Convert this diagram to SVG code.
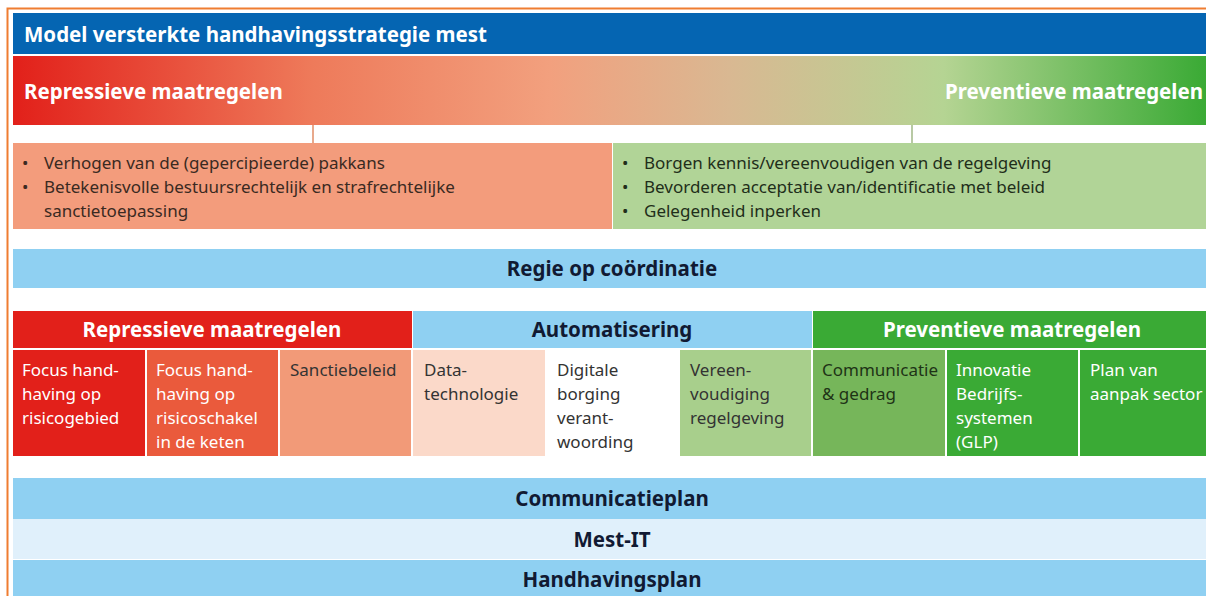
<svg xmlns="http://www.w3.org/2000/svg" width="1206" height="596" viewBox="0 0 1206 596">
<defs>
<linearGradient id="grad" x1="0" y1="0" x2="1" y2="0">
<stop offset="0" stop-color="#e2201a"/>
<stop offset="0.25" stop-color="#ee7a5a"/>
<stop offset="0.45" stop-color="#f2a07e"/>
<stop offset="0.6" stop-color="#d9b892"/>
<stop offset="0.78" stop-color="#b5d493"/>
<stop offset="1" stop-color="#3aaa35"/>
</linearGradient>
<style>
text{font-family:"Noto Sans","Open Sans","Liberation Sans",sans-serif}
.hw{fill:#ffffff;font-weight:bold;font-size:20.5px}
.hd{fill:#111a33;font-weight:bold;font-size:20.5px}
.bl{fill:#3a2a22;font-size:17px}
.bg{fill:#1f2e1a;font-size:17px}
.cw{fill:#ffffff;font-size:17px}
.cd{fill:#333333;font-size:17px}
.bar{fill:#8fd0f2}
.conn{stroke-width:2;fill:none}
</style>
</defs>
<rect width="1206" height="596" fill="#ffffff"/>
<path d="M7.5 596 V8.5 H1206" stroke="#ef7d31" stroke-width="2" fill="none"/>

<g id="title">
<rect x="13" y="13" width="1193" height="41" fill="#0565b2"/>
<text class="hw" x="24" y="42">Model versterkte handhavingsstrategie mest</text>
</g>

<g id="strategy-bar">
<rect x="13" y="56" width="1193" height="69" fill="url(#grad)"/>
<text class="hw" x="24" y="99">Repressieve maatregelen</text>
<text class="hw" x="1203" y="99" text-anchor="end">Preventieve maatregelen</text>
</g>

<g id="connectors">
<line class="conn" x1="313" y1="125" x2="313" y2="143" stroke="#e8a98c"/>
<line class="conn" x1="912" y1="125" x2="912" y2="143" stroke="#b8c9a4"/>
</g>

<g id="repressive-goals">
<rect x="13" y="143" width="599" height="86" fill="#f39c7c"/>
<text class="bl" x="22" y="169">•</text><text class="bl" x="44" y="169">Verhogen van de (gepercipieerde) pakkans</text>
<text class="bl" x="22" y="193">•</text><text class="bl" x="44" y="193">Betekenisvolle bestuursrechtelijk en strafrechtelijke</text>
<text class="bl" x="44" y="217">sanctietoepassing</text>
</g>

<g id="preventive-goals">
<rect x="613" y="143" width="593" height="86" fill="#b1d497"/>
<text class="bg" x="622" y="169">•</text><text class="bg" x="644" y="169">Borgen kennis/vereenvoudigen van de regelgeving</text>
<text class="bg" x="622" y="193">•</text><text class="bg" x="644" y="193">Bevorderen acceptatie van/identificatie met beleid</text>
<text class="bg" x="622" y="217">•</text><text class="bg" x="644" y="217">Gelegenheid inperken</text>
</g>

<g id="regie">
<rect class="bar" x="13" y="249" width="1193" height="39"/>
<text class="hd" x="612" y="276" text-anchor="middle">Regie op coördinatie</text>
</g>

<g id="head-repressive">
<rect x="13" y="311" width="399" height="37" fill="#e2201a"/>
<text class="hw" x="212" y="337" text-anchor="middle">Repressieve maatregelen</text>
</g>
<g id="head-automatisering">
<rect x="413" y="311" width="399" height="37" fill="#8fd0f2"/>
<text class="hd" x="612" y="337" text-anchor="middle">Automatisering</text>
</g>
<g id="head-preventive">
<rect x="813" y="311" width="393" height="37" fill="#3aaa35"/>
<text class="hw" x="1012" y="337" text-anchor="middle">Preventieve maatregelen</text>
</g>

<g id="cell-risicogebied">
<rect x="13" y="350" width="132" height="106" fill="#e2201a"/>
<text class="cw" x="22" y="376">Focus hand-</text>
<text class="cw" x="22" y="400">having op</text>
<text class="cw" x="22" y="424">risicogebied</text>
</g>
<g id="cell-risicoschakel">
<rect x="147" y="350" width="131" height="106" fill="#ea5a3c"/>
<text class="cw" x="156" y="376">Focus hand-</text>
<text class="cw" x="156" y="400">having op</text>
<text class="cw" x="156" y="424">risicoschakel</text>
<text class="cw" x="156" y="448">in de keten</text>
</g>
<g id="cell-sanctiebeleid">
<rect x="280" y="350" width="131" height="106" fill="#f29a78"/>
<text class="cd" x="290" y="376">Sanctiebeleid</text>
</g>
<g id="cell-datatechnologie">
<rect x="413" y="350" width="132" height="106" fill="#fbd9c9"/>
<text class="cd" x="424" y="376">Data-</text>
<text class="cd" x="424" y="400">technologie</text>
</g>
<g id="cell-digitale-borging">
<rect x="546" y="350" width="132" height="106" fill="#ffffff"/>
<text class="cd" x="557" y="376">Digitale</text>
<text class="cd" x="557" y="400">borging</text>
<text class="cd" x="557" y="424">verant-</text>
<text class="cd" x="557" y="448">woording</text>
</g>
<g id="cell-vereenvoudiging">
<rect x="680" y="350" width="131" height="106" fill="#a8cf8c"/>
<text class="cd" x="690" y="376">Vereen-</text>
<text class="cd" x="690" y="400">voudiging</text>
<text class="cd" x="690" y="424">regelgeving</text>
</g>
<g id="cell-communicatie">
<rect x="813" y="350" width="132" height="106" fill="#76b65a"/>
<text class="cd" x="822" y="376" style="fill:#1e3316">Communicatie</text>
<text class="cd" x="822" y="400" style="fill:#1e3316">&amp; gedrag</text>
</g>
<g id="cell-innovatie">
<rect x="947" y="350" width="131" height="106" fill="#3aaa35"/>
<text class="cw" x="956" y="376">Innovatie</text>
<text class="cw" x="956" y="400">Bedrijfs-</text>
<text class="cw" x="956" y="424">systemen</text>
<text class="cw" x="956" y="448">(GLP)</text>
</g>
<g id="cell-plan-sector">
<rect x="1080" y="350" width="126" height="106" fill="#3aaa35"/>
<text class="cw" x="1090" y="376">Plan van</text>
<text class="cw" x="1090" y="400">aanpak sector</text>
</g>

<g id="communicatieplan">
<rect class="bar" x="13" y="478" width="1193" height="41"/>
<text class="hd" x="612" y="506" text-anchor="middle">Communicatieplan</text>
</g>
<g id="mest-it">
<rect x="13" y="519" width="1193" height="40" fill="#e0f0fb"/>
<text class="hd" x="612" y="547" text-anchor="middle">Mest-IT</text>
</g>
<g id="handhavingsplan">
<rect class="bar" x="13" y="560" width="1193" height="36"/>
<text class="hd" x="612" y="587" text-anchor="middle">Handhavingsplan</text>
</g>
</svg>
